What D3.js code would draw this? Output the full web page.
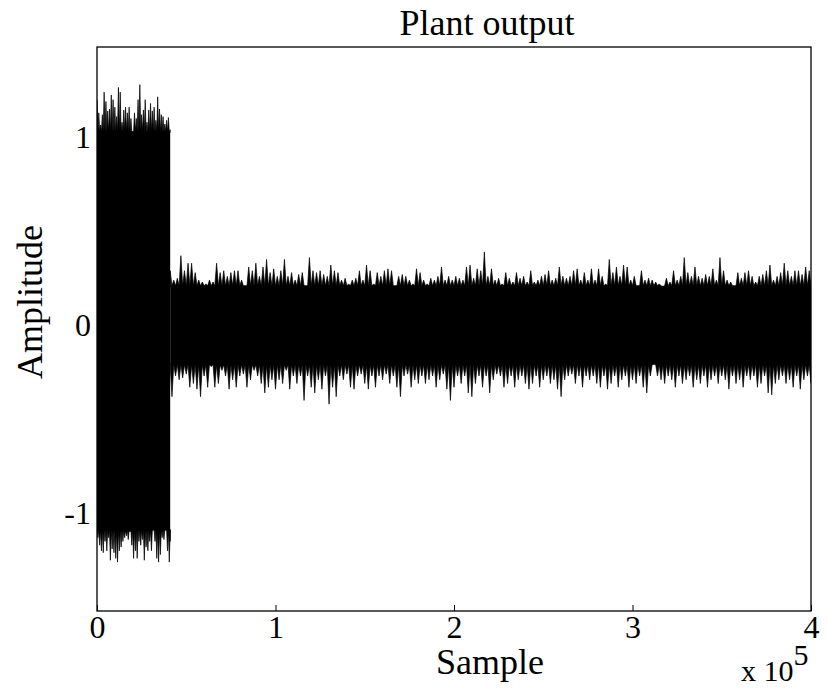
<!DOCTYPE html>
<html>
<head>
<meta charset="utf-8">
<script src="https://cdn.jsdelivr.net/npm/d3@7.9.0/dist/d3.min.js"></script>
<style>
  body { margin: 0; background: #fff; }
  svg { display: block; }
  text { font-family: "Liberation Serif", "Times New Roman", serif; fill: #000; }
</style>
</head>
<body>
<div id="chart"></div>
<script>
// === Data ===
// Two regimes of the plant output: a large burst, then the settled noise
const segStart = [0, 41000];
const segEnd = [41000, 400000];
const segStep = [1000, 2000];
// dense core of the signal in each regime
const bandTop = [1.05, 0.23];
const bandBottom = [-1.07, -0.19];

// upper / lower peaks, regime 1 (every 1000 samples)
const upper1 = [1.22,1.15,1.085,1.14,1.26,1.21,1.16,1.17,1.245,1.22,1.18,1.13,1.285,1.26,1.10,1.165,1.18,1.15,1.18,1.12,1.05,
  1.15,1.12,1.22,1.30,1.14,1.165,1.22,1.10,1.165,1.20,1.16,1.18,1.11,1.235,1.17,1.14,1.13,1.09,1.11,1.125,1.06];
const lower1 = [-1.11,-1.15,-1.18,-1.19,-1.13,-1.18,-1.11,-1.23,-1.17,-1.19,-1.22,-1.24,-1.18,-1.16,-1.13,-1.11,-1.10,-1.12,-1.08,-1.15,-1.22,
  -1.18,-1.22,-1.13,-1.15,-1.12,-1.23,-1.16,-1.18,-1.13,-1.18,-1.07,-1.13,-1.22,-1.24,-1.20,-1.11,-1.12,-1.07,-1.18,-1.24,-1.13];

// upper / lower peaks, regime 2 (every 2000 samples)
const upper2 = [
  0.31,0.26,0.27,0.39,0.31,0.35,0.35,0.30,0.26,0.25,0.24,0.26,0.25,0.35,0.30,0.31,0.28,0.30,0.31,0.31,0.26,0.23,
  0.33,0.31,0.35,0.28,0.33,0.37,0.30,0.32,0.28,0.31,0.37,0.28,0.30,0.26,0.29,0.30,0.23,0.38,0.31,0.30,0.31,0.29,
  0.28,0.34,0.31,0.30,0.26,0.27,0.24,0.26,0.27,0.31,0.26,0.34,0.31,0.24,0.30,0.28,0.31,0.32,0.31,0.23,
  0.28,0.29,0.28,0.26,0.24,0.32,0.30,0.26,0.24,0.27,0.26,0.28,0.33,0.26,0.28,0.26,0.28,0.27,0.26,0.33,
  0.34,0.27,0.32,0.31,0.41,0.28,0.32,0.26,0.27,0.24,0.30,0.27,0.25,0.30,0.27,0.28,0.25,0.31,0.25,0.26,
  0.28,0.29,0.31,0.26,0.27,0.33,0.28,0.27,
  0.28,0.31,0.32,0.26,0.30,0.26,0.32,0.26,0.32,0.28,0.24,0.37,0.30,0.33,0.28,0.34,0.33,0.26,0.28,0.23,
  0.31,0.26,0.27,0.26,0.25,0.24,0.22,0.27,0.25,0.31,0.26,0.28,0.38,0.30,0.28,0.33,0.28,0.27,0.29,0.28,
  0.32,0.26,0.38,0.31,0.26,0.25,0.23,0.30,0.27,0.30,0.31,0.28,0.25,0.28,0.29,0.31,0.34,0.26,0.28,0.30,
  0.35,0.31,0.28,0.31,0.31,0.29,0.33,0.31];
const lower2 = [
  -0.36,-0.25,-0.27,-0.26,-0.24,-0.31,-0.29,-0.32,-0.36,-0.25,-0.31,-0.20,-0.31,-0.29,-0.22,-0.25,-0.32,-0.27,-0.31,-0.25,
  -0.24,-0.31,-0.27,-0.22,-0.25,-0.29,-0.34,-0.31,-0.27,-0.32,-0.27,-0.29,-0.22,-0.32,-0.25,-0.29,-0.25,-0.38,-0.25,-0.31,
  -0.34,-0.27,-0.32,-0.25,
  -0.40,-0.31,-0.36,-0.25,-0.27,-0.24,-0.31,-0.32,-0.25,-0.24,-0.29,-0.32,-0.25,-0.31,-0.25,-0.27,-0.24,-0.29,-0.25,-0.31,
  -0.36,-0.25,-0.24,-0.31,-0.27,-0.29,-0.25,-0.29,-0.27,-0.25,-0.31,-0.27,-0.24,-0.32,-0.38,-0.31,-0.25,-0.29,-0.25,-0.34,
  -0.36,-0.29,-0.25,-0.31,-0.25,-0.34,-0.27,-0.24,-0.25,-0.31,-0.29,-0.25,-0.31,-0.27,-0.25,-0.29,-0.32,-0.29,-0.25,-0.31,
  -0.27,-0.25,-0.29,-0.27,-0.32,-0.36,-0.27,-0.25,
  -0.24,-0.29,-0.25,-0.31,-0.25,-0.27,-0.25,-0.29,-0.31,-0.25,-0.32,-0.29,-0.25,-0.31,-0.27,-0.25,-0.31,-0.27,-0.29,-0.25,
  -0.31,-0.34,-0.25,-0.18,-0.25,-0.27,-0.29,-0.25,-0.27,-0.31,-0.25,-0.29,-0.27,-0.25,-0.31,-0.27,-0.29,-0.25,-0.31,-0.27,
  -0.25,-0.29,-0.25,-0.27,-0.32,-0.25,-0.29,-0.27,-0.31,-0.25,-0.27,-0.25,-0.31,-0.29,-0.25,-0.34,-0.35,-0.29,-0.27,-0.25,
  -0.29,-0.27,-0.31,-0.25,-0.32,-0.27,-0.25,-0.29];

const uppers = [upper1, upper2];
const lowers = [lower1, lower2];

const xTicks = [0, 100000, 200000, 300000, 400000];
const yTicks = [-1, 0, 1];
const xDomain = [0, 400000];
const yDomain = [-1.5, 1.5];

// === Chart Dimensions ===
const W = 828, H = 690;
const margin = { top: 47, right: 17, bottom: 79, left: 97 };
const width = W - margin.left - margin.right;
const height = H - margin.top - margin.bottom;

const svg = d3.select("#chart").append("svg")
    .attr("width", W)
    .attr("height", H);

const g = svg.append("g")
    .attr("transform", `translate(${margin.left},${margin.top})`);

const x = d3.scaleLinear().domain(xDomain).range([0, width]);
const y = d3.scaleLinear().domain(yDomain).range([height, 0]);

g.append("clipPath").attr("id", "plot")
  .append("rect").attr("width", width).attr("height", height);

// peaks rise from the core edge: each peak is a narrow spike between two
// core-level points half a step away
function peakPoints(vals, s0, step, base, offset) {
    const pts = [];
    vals.forEach((v, i) => {
        const t = s0 + offset + i * step;
        pts.push({ t: t - step / 2, v: base });
        pts.push({ t: t, v: v });
    });
    pts.push({ t: s0 + offset + vals.length * step - step / 2, v: base });
    return pts;
}

// === Signal ===
const sig = g.append("g").attr("clip-path", "url(#plot)");
segStart.forEach((s0, s) => {
    const step = segStep[s];
    // solid core
    sig.append("rect")
        .attr("x", x(s0))
        .attr("y", y(bandTop[s]))
        .attr("width", x(segEnd[s]) - x(s0))
        .attr("height", y(bandBottom[s]) - y(bandTop[s]))
        .attr("fill", "#000");

    const up = peakPoints(uppers[s], s0, step, bandTop[s], 0);
    const lo = peakPoints(lowers[s], s0, step, bandBottom[s], step / 2);

    sig.append("path")
        .datum(up)
        .attr("d", d3.area()
            .x(d => x(Math.min(Math.max(d.t, s0), segEnd[s])))
            .y0(y(bandTop[s]) + 1)
            .y1(d => y(d.v)))
        .attr("fill", "#000")
        .attr("stroke", "#000")
        .attr("stroke-width", 0.7)
        .attr("stroke-linejoin", "miter");

    sig.append("path")
        .datum(lo)
        .attr("d", d3.area()
            .x(d => x(Math.min(Math.max(d.t, s0), segEnd[s])))
            .y0(y(bandBottom[s]) - 1)
            .y1(d => y(d.v)))
        .attr("fill", "#000")
        .attr("stroke", "#000")
        .attr("stroke-width", 0.7)
        .attr("stroke-linejoin", "miter");
});

// === Axes ===
const xAxis = g.append("g")
    .attr("transform", `translate(0,${height})`)
    .call(d3.axisBottom(x).tickValues(xTicks).tickSizeInner(-6).tickSizeOuter(0)
        .tickPadding(4).tickFormat(d => d / 100000));
const yAxis = g.append("g")
    .call(d3.axisLeft(y).tickValues(yTicks).tickSizeInner(-6).tickSizeOuter(0)
        .tickPadding(6).tickFormat(d => d));

[xAxis, yAxis].forEach(a => {
    a.select(".domain").remove();
    a.selectAll("line").attr("stroke", "#000").attr("stroke-width", 1);
    a.selectAll("text").attr("font-size", 32).attr("font-family", null).attr("fill", "#000");
});
yAxis.selectAll("text").attr("dy", "0.21em");

// box
g.append("rect")
    .attr("width", width)
    .attr("height", height)
    .attr("fill", "none")
    .attr("stroke", "#000")
    .attr("stroke-width", 1.3);

// === Labels ===
svg.append("text")
    .attr("x", 487)
    .attr("y", 35)
    .attr("text-anchor", "middle")
    .attr("font-size", 36)
    .text("Plant output");

svg.append("text")
    .attr("x", 490)
    .attr("y", 674)
    .attr("text-anchor", "middle")
    .attr("font-size", 36)
    .text("Sample");

svg.append("text")
    .attr("transform", `translate(42,${margin.top + height / 2 - 27}) rotate(-90)`)
    .attr("text-anchor", "middle")
    .attr("font-size", 36)
    .text("Amplitude");

const expo = svg.append("text")
    .attr("x", 741)
    .attr("y", 681)
    .attr("font-size", 30);
expo.append("tspan").text("x 10");
expo.append("tspan").attr("dy", -16).text("5");
</script>
</body>
</html>
